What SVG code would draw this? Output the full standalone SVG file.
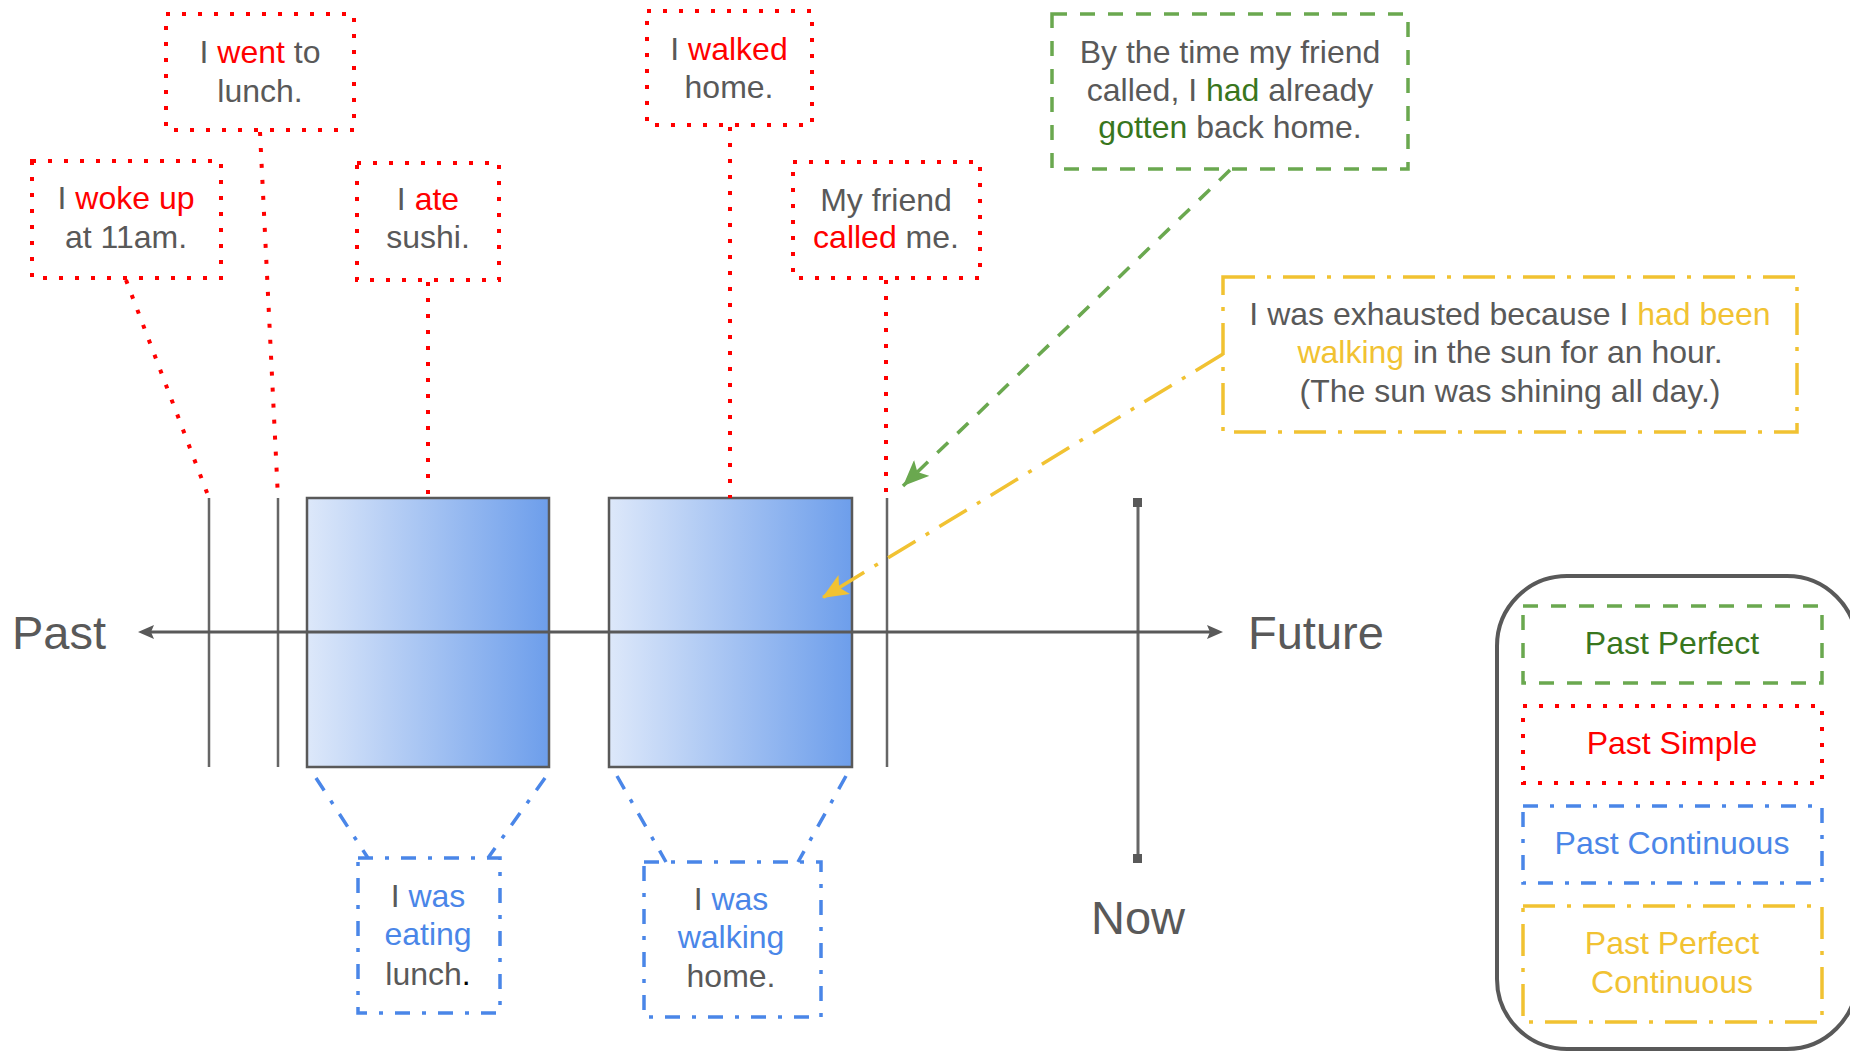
<svg xmlns="http://www.w3.org/2000/svg" width="1850" height="1052" viewBox="0 0 1850 1052">
<defs>
<linearGradient id="blueGrad" x1="0" y1="0" x2="1" y2="0">
<stop offset="0" stop-color="#dde8fa"/>
<stop offset="1" stop-color="#6d9eeb"/>
</linearGradient>
<marker id="arrGreen" viewBox="0 0 26 22" refX="26" refY="11" markerWidth="26" markerHeight="22" markerUnits="userSpaceOnUse" orient="auto">
<path d="M0,0 L26,11 L0,22 L6,11 z" fill="#6aa84f"/>
</marker>
<marker id="arrYellow" viewBox="0 0 26 22" refX="26" refY="11" markerWidth="26" markerHeight="22" markerUnits="userSpaceOnUse" orient="auto">
<path d="M0,0 L26,11 L0,22 L6,11 z" fill="#f1c232"/>
</marker>
</defs>
<style>
text{font-family:"Liberation Sans",Arial,sans-serif;font-size:32px;fill:#595959;text-anchor:middle}
.big{font-size:47px}
.red{fill:#ff0000}
.green{fill:#38761d}
.yel{fill:#f1c232}
.blu{fill:#4a86e8}
.ps{fill:none;stroke:#ff0000;stroke-width:4;stroke-dasharray:4 12}
.pp{fill:none;stroke:#6aa84f;stroke-width:3.5;stroke-dasharray:15 13}
.pc{fill:none;stroke:#4a86e8;stroke-width:3.5;stroke-dasharray:15 12 4 12}
.ppc{fill:none;stroke:#f1c232;stroke-width:3.5;stroke-dasharray:32 12 4 12}
.tick{stroke:#666666;stroke-width:2.5;fill:none}
</style>
<rect width="1850" height="1052" fill="#ffffff"/>

<g id="timeline">
<line class="tick" x1="209" y1="498" x2="209" y2="767"/>
<line class="tick" x1="278" y1="498" x2="278" y2="767"/>
<line class="tick" x1="887" y1="498" x2="887" y2="767"/>
</g>

<g id="now-line">
<line x1="1138" y1="503" x2="1138" y2="858" stroke="#666666" stroke-width="3"/>
<rect x="1133" y="498" width="9" height="9" fill="#595959"/>
<rect x="1133" y="854" width="9" height="9" fill="#595959"/>
</g>

<g id="rect-lunch">
<rect x="307" y="498" width="242" height="269" fill="url(#blueGrad)" stroke="#595959" stroke-width="2.5"/>
</g>
<g id="rect-walking">
<rect x="609" y="498" width="243" height="269" fill="url(#blueGrad)" stroke="#595959" stroke-width="2.5"/>
</g>

<g id="axis">
<line x1="148" y1="632" x2="1213" y2="632" stroke="#595959" stroke-width="3"/>
<path d="M138,632 L154,625 L151,632 L154,639 z" fill="#595959"/>
<path d="M1223,632 L1207,625 L1210,632 L1207,639 z" fill="#595959"/>
</g>

<g id="connectors">
<line class="ps" x1="126" y1="280" x2="209" y2="498"/>
<line class="ps" x1="260" y1="132" x2="278" y2="498"/>
<line class="ps" x1="428" y1="282" x2="428" y2="498"/>
<line class="ps" x1="730" y1="127" x2="730" y2="498"/>
<line class="ps" x1="886" y1="280" x2="886" y2="498"/>
<line class="pp" x1="1230" y1="170" x2="903" y2="486" marker-end="url(#arrGreen)"/>
<line class="ppc" x1="1223" y1="354" x2="822" y2="598" marker-end="url(#arrYellow)"/>
<line class="pc" x1="316" y1="778" x2="368" y2="858"/>
<line class="pc" x1="545" y1="778" x2="488" y2="858"/>
<line class="pc" x1="617" y1="776" x2="666" y2="862"/>
<line class="pc" x1="846" y1="776" x2="798" y2="862"/>
</g>

<g id="labels-axis">
<text class="big" x="12" y="649" style="text-anchor:start">Past</text>
<text class="big" x="1248" y="649" style="text-anchor:start">Future</text>
<text class="big" x="1138" y="934">Now</text>
</g>

<g id="node-woke">
<rect class="ps" x="32" y="161" width="189" height="117"/>
<text x="126" y="209">I <tspan class="red">woke up</tspan></text>
<text x="126" y="248">at 11am.</text>
</g>
<g id="node-went">
<rect class="ps" x="166" y="14" width="188" height="116"/>
<text x="260" y="63">I <tspan class="red">went</tspan> to</text>
<text x="260" y="102">lunch.</text>
</g>
<g id="node-ate">
<rect class="ps" x="357" y="163" width="142" height="117"/>
<text x="428" y="210">I <tspan class="red">ate</tspan></text>
<text x="428" y="248">sushi.</text>
</g>
<g id="node-walked">
<rect class="ps" x="647" y="11" width="165" height="114"/>
<text x="729" y="60">I <tspan class="red">walked</tspan></text>
<text x="729" y="98">home.</text>
</g>
<g id="node-called">
<rect class="ps" x="793" y="162" width="187" height="116"/>
<text x="886" y="211">My friend</text>
<text x="886" y="248"><tspan class="red">called</tspan> me.</text>
</g>
<g id="node-pastperfect">
<rect class="pp" x="1052" y="14" width="356" height="155"/>
<text x="1230" y="63">By the time my friend</text>
<text x="1230" y="101">called, I <tspan class="green">had</tspan> already</text>
<text x="1230" y="138"><tspan class="green">gotten</tspan> back home.</text>
</g>
<g id="node-ppc">
<rect class="ppc" x="1223" y="277" width="574" height="155"/>
<text x="1510" y="325">I was exhausted because I <tspan class="yel">had been</tspan></text>
<text x="1510" y="363"><tspan class="yel">walking</tspan> in the sun for an hour.</text>
<text x="1510" y="402">(The sun was shining all day.)</text>
</g>
<g id="node-eating">
<rect class="pc" x="358" y="858" width="142" height="155"/>
<text x="428" y="907">I <tspan class="blu">was</tspan></text>
<text x="428" y="945" class="blu">eating</text>
<text x="428" y="985">lunch<tspan style="fill:#000000">.</tspan></text>
</g>
<g id="node-walking">
<rect class="pc" x="644" y="862" width="177" height="155"/>
<text x="731" y="910">I <tspan class="blu">was</tspan></text>
<text x="731" y="948" class="blu">walking</text>
<text x="731" y="987">home.</text>
</g>

<g id="legend">
<rect x="1497" y="576" width="360" height="473" rx="70" ry="70" fill="none" stroke="#595959" stroke-width="4"/>
<rect class="pp" x="1523" y="606" width="299" height="77"/>
<text x="1672" y="654" class="green">Past Perfect</text>
<rect class="ps" x="1523" y="706" width="299" height="77"/>
<text x="1672" y="754" class="red">Past Simple</text>
<rect class="pc" x="1523" y="806" width="299" height="77"/>
<text x="1672" y="854" class="blu">Past Continuous</text>
<rect class="ppc" x="1523" y="906" width="299" height="116"/>
<text x="1672" y="954" class="yel">Past Perfect</text>
<text x="1672" y="993" class="yel">Continuous</text>
</g>
</svg>
